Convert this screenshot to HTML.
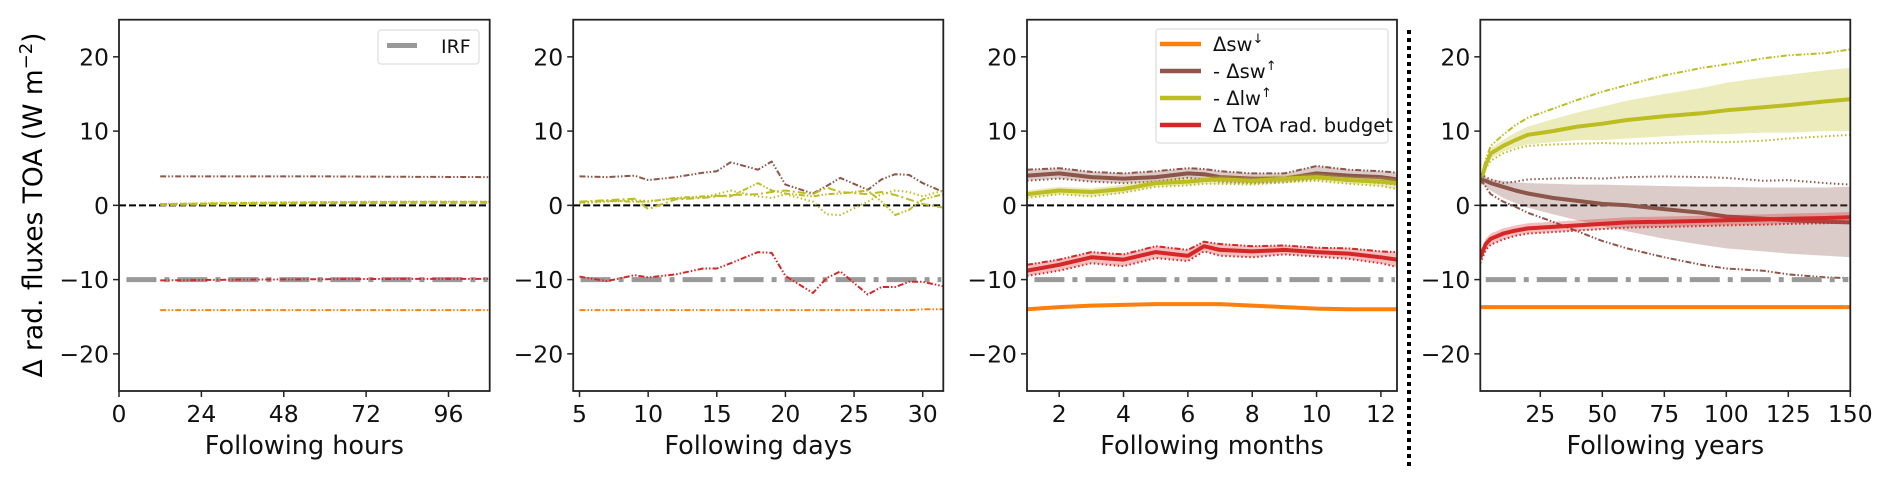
<!DOCTYPE html>
<html><head><meta charset="utf-8"><style>
body{margin:0;background:#fff;}
svg{display:block;font-family:"DejaVu Sans","Liberation Sans",sans-serif;}
</style></head><body>
<svg id="chart" width="1892" height="478" viewBox="0 0 1892 478" xmlns="http://www.w3.org/2000/svg">
<text x="0" y="0" transform="translate(42,205) rotate(-90)" text-anchor="middle" font-size="26.5" fill="#000">Δ rad. fluxes TOA (W m<tspan dy="-10" font-size="18">−2</tspan><tspan dy="10">)</tspan></text>
<line x1="1409" y1="30" x2="1409" y2="468" stroke="#000" stroke-width="4" stroke-dasharray="4,4"/>
</svg>
<script>
// ---------- data ----------
const yTicks = [-20, -10, 0, 10, 20];
const hoursTicks = [0, 24, 48, 72, 96];
const daysTicks = [5, 10, 15, 20, 25, 30];
const monthsTicks = [2, 4, 6, 8, 10, 12];
const yearsTicks = [25, 50, 75, 100, 125, 150];
const irfValue = -10;

// panel 1 (hours)
const hoursX = [12, 36, 60, 84, 108];
const hoursSwUp = [3.9, 3.9, 3.9, 3.85, 3.8];
const hoursLw = [0.1, 0.25, 0.35, 0.4, 0.4];
const hoursBudget = [-10.1, -10.0, -9.95, -9.9, -9.9];
const hoursSwDown = [-14.1, -14.1, -14.1, -14.1, -14.1];

// panel 2 (days)
const daysX = [5, 7, 9, 10, 12, 14, 15, 16, 18, 19, 20, 22, 23, 24, 26, 27, 28, 29, 30, 31.5];
const daysSwUp = [3.9, 3.8, 4.0, 3.4, 3.8, 4.4, 4.6, 5.8, 4.8, 5.9, 2.8, 1.6, 2.6, 3.7, 2.1, 3.5, 4.2, 4.1, 3.0, 1.8];
const daysBudget = [-9.6, -10.2, -9.4, -9.7, -9.3, -8.5, -8.5, -7.8, -6.3, -6.4, -9.5, -11.8, -9.8, -8.9, -12.0, -11.0, -11.0, -10.3, -10.3, -10.9];
const daysSwDown = [-14.1, -14.1, -14.1, -14.1, -14.1, -14.1, -14.1, -14.1, -14.1, -14.1, -14.1, -14.1, -14.1, -14.1, -14.1, -14.1, -14.1, -14.1, -14.0, -14.0];
const daysLwA = [0.3, 0.5, 0.7, 0.6, 0.9, 1.1, 1.5, 2.0, 1.2, 1.0, 1.5, 0.5, -1.2, -1.3, 0.5, 1.5, 2.0, 1.8, 1.2, 2.0];
const daysLwB = [0.4, 0.6, 0.5, 0.5, 1.0, 1.2, 1.3, 1.2, 3.0, 2.0, 1.6, 1.2, 1.5, 1.6, 2.0, 0.5, -1.3, -0.6, 0.8, 1.5];
const daysLwC = [0.5, 0.7, 0.9, -0.5, 0.8, 1.0, 1.2, 1.4, 1.5, 1.8, 2.0, 1.5, 2.4, 1.8, 1.5, 1.8, 1.4, 0.8, 0.2, -0.3];

// panel 3 (months)
const monthsX = [1, 2, 3, 4, 5, 6, 6.5, 7, 8, 9, 10, 11, 12, 12.5];
const monthsSwUp = [4.0, 4.3, 3.8, 3.6, 3.8, 4.3, 4.2, 3.8, 3.6, 3.6, 4.3, 4.0, 3.8, 3.5];
const monthsSwUpLo = [3.3, 3.6, 3.2, 3.0, 3.2, 3.7, 3.5, 3.2, 3.0, 3.1, 3.6, 3.3, 3.0, 2.8];
const monthsSwUpHi = [4.8, 5.0, 4.5, 4.3, 4.6, 5.0, 4.9, 4.6, 4.3, 4.3, 5.3, 4.8, 4.6, 4.4];
const monthsLw = [1.5, 2.0, 1.8, 2.2, 3.0, 3.2, 3.4, 3.5, 3.3, 3.6, 3.8, 3.4, 3.2, 3.0];
const monthsLwLo = [1.0, 1.5, 1.2, 1.7, 2.5, 2.7, 2.9, 2.9, 2.8, 3.1, 3.3, 2.9, 2.6, 2.2];
const monthsLwHi = [2.0, 2.5, 2.3, 2.8, 3.5, 3.7, 3.9, 4.0, 3.8, 4.1, 4.3, 3.9, 3.8, 3.6];
const monthsBudget = [-8.8, -8.0, -7.0, -7.3, -6.3, -6.8, -5.5, -6.0, -6.2, -6.0, -6.3, -6.5, -7.0, -7.3];
const monthsBudgetLo = [-9.5, -8.8, -7.8, -8.2, -7.1, -7.5, -6.2, -6.8, -7.0, -6.6, -6.9, -7.2, -7.8, -8.3];
const monthsBudgetHi = [-8.0, -7.3, -6.3, -6.6, -5.5, -6.0, -4.9, -5.2, -5.5, -5.4, -5.7, -5.8, -6.2, -6.3];
const monthsSwDown = [-14.0, -13.7, -13.5, -13.4, -13.3, -13.3, -13.3, -13.3, -13.5, -13.7, -13.9, -14.0, -14.0, -14.0];

// panel 4 (years)
const yearsX = [0.8, 3, 5, 10, 15, 20, 30, 40, 50, 60, 75, 90, 100, 115, 125, 140, 150];
const yearsLw = [3.0, 5.5, 7.0, 8.0, 8.8, 9.5, 10.0, 10.6, 11.0, 11.5, 12.0, 12.4, 12.8, 13.2, 13.5, 14.0, 14.3];
const yearsLwLo = [2.8, 5.0, 6.3, 7.2, 7.8, 8.2, 8.5, 8.8, 8.8, 9.0, 9.3, 9.5, 9.6, 9.8, 9.8, 10.0, 10.0];
const yearsLwHi = [3.2, 6.0, 7.7, 8.8, 9.8, 10.6, 11.6, 12.5, 13.3, 14.1, 15.0, 15.8, 16.5, 17.2, 17.6, 18.2, 18.5];
const yearsLwTop = [3.2, 6.2, 8.0, 9.5, 10.8, 11.8, 13.0, 14.2, 15.3, 16.2, 17.5, 18.5, 19.0, 19.8, 20.2, 20.5, 21.0];
const yearsLwBottom = [2.8, 5.0, 6.0, 7.0, 7.6, 8.0, 8.2, 8.3, 8.4, 8.3, 8.4, 8.6, 8.5, 8.7, 9.0, 9.3, 9.5];
const yearsSwUp = [3.5, 3.3, 3.0, 2.5, 2.0, 1.6, 1.0, 0.6, 0.2, 0.0, -0.5, -1.0, -1.5, -1.8, -2.0, -2.2, -2.3];
const yearsSwUpLo = [3.0, 2.5, 2.0, 1.0, 0.3, -0.3, -1.2, -2.0, -2.8, -3.5, -4.5, -5.3, -5.8, -6.2, -6.5, -6.8, -7.0];
const yearsSwUpHi = [4.0, 3.8, 3.5, 3.3, 3.1, 3.0, 2.9, 2.8, 2.8, 2.7, 2.6, 2.5, 2.5, 2.4, 2.4, 2.4, 2.5];
const yearsSwUpTop = [4.2, 3.8, 3.5, 3.0, 3.2, 3.5, 3.6, 3.7, 3.6, 3.8, 3.9, 3.8, 3.7, 3.3, 3.4, 3.0, 2.8];
const yearsSwUpBottom = [3.5, 2.5, 1.5, 0.5, -0.2, -1.0, -2.2, -3.5, -4.8, -5.8, -7.0, -8.0, -8.5, -8.8, -9.3, -9.7, -9.8];
const yearsBudget = [-7.0, -5.2, -4.5, -3.8, -3.4, -3.1, -2.9, -2.7, -2.5, -2.3, -2.2, -2.1, -2.0, -1.9, -1.8, -1.7, -1.6];
const yearsBudgetLo = [-7.8, -6.0, -5.3, -4.6, -4.1, -3.8, -3.6, -3.4, -3.2, -3.0, -2.9, -2.8, -2.7, -2.6, -2.5, -2.4, -2.3];
const yearsBudgetHi = [-6.2, -4.5, -3.8, -3.1, -2.7, -2.4, -2.2, -2.0, -1.8, -1.6, -1.5, -1.4, -1.3, -1.2, -1.1, -1.0, -0.9];
const yearsSwDown = [-13.7, -13.7, -13.7, -13.7, -13.7, -13.7, -13.7, -13.7, -13.7, -13.7, -13.7, -13.7, -13.7, -13.7, -13.7, -13.7, -13.7];

// ---------- drawing ----------
const C = {orange:'#ff7f0e', brown:'#8c564b', olive:'#bcbd22', red:'#d62728', gray:'#999999'};
const NS = 'http://www.w3.org/2000/svg';
const svg = document.getElementById('chart');
const TOP = 19.7, BOT = 391;
function yScale(v){ return TOP + (25 - v) / 50 * (BOT - TOP); }
function mk(tag, attrs, parent){
  const e = document.createElementNS(NS, tag);
  for (const k in attrs) e.setAttribute(k, attrs[k]);
  (parent || svg).appendChild(e);
  return e;
}
const panels = [
  {name:'hours', x0:119, x1:489.7, d0:0, d1:108, ticks:hoursTicks, label:'Following hours'},
  {name:'days', x0:573.2, x1:943.3, d0:4.54, d1:31.5, ticks:daysTicks, label:'Following days'},
  {name:'months', x0:1027, x1:1397, d0:1.0, d1:12.5, ticks:monthsTicks, label:'Following months'},
  {name:'years', x0:1480.3, x1:1850.3, d0:0.8, d1:150, ticks:yearsTicks, label:'Following years'}
];
panels.forEach(p => { p.sx = v => p.x0 + (v - p.d0) / (p.d1 - p.d0) * (p.x1 - p.x0); });

function pathD(p, xs, ys){ return xs.map((x,i)=>(i?'L':'M')+p.sx(x).toFixed(1)+','+yScale(ys[i]).toFixed(1)).join(''); }
function line(g, p, xs, ys, color, width, dash, name){
  const el = mk('path', {d:pathD(p,xs,ys), fill:'none', stroke:color, 'stroke-width':width, 'stroke-dasharray':dash||'none', 'stroke-linejoin':'round'}, g);
  
  
}
function band(g, p, xs, lo, hi, color, name){
  let d = xs.map((x,i)=>(i?'L':'M')+p.sx(x).toFixed(1)+','+yScale(hi[i]).toFixed(1)).join('');
  for (let i = xs.length-1; i >= 0; i--) d += 'L'+p.sx(xs[i]).toFixed(1)+','+yScale(lo[i]).toFixed(1);
  const el = mk('path', {d:d+'Z', fill:color, 'fill-opacity':0.3, stroke:'none'}, g);
  
  
}
const DDOT = '6,2,1.5,2,1.5,2', DOT = '1.5,2.5', DASH = '7,3';

panels.forEach((p, pi) => {
  const g = mk('g', {});
  
  
  const clipId = 'clip' + pi;
  const cp = mk('clipPath', {id:clipId}, g);
  mk('rect', {x:p.x0, y:TOP, width:p.x1-p.x0, height:BOT-TOP}, cp);
  const plot = mk('g', {'clip-path':'url(#'+clipId+')'}, g);
  
  

  const z = mk('line', {x1:p.x0, x2:p.x1, y1:yScale(0), y2:yScale(0), stroke:'#000', 'stroke-width':2, 'stroke-dasharray':DASH}, plot);
  
  

  if (p.name === 'hours') {
    line(plot, p, hoursX, hoursSwUp, C.brown, 2, DDOT, 'sw-up-line');
    line(plot, p, hoursX, hoursLw, C.olive, 3, DASH, 'lw-up-line');
    line(plot, p, hoursX, hoursLw.map(v=>v+0.1), C.olive, 2, DOT, 'lw-up-line-member');
    line(plot, p, hoursX, hoursSwDown, C.orange, 2, DDOT, 'sw-down-line');
  } else if (p.name === 'days') {
    line(plot, p, daysX, daysSwUp, C.brown, 2, DDOT, 'sw-up-line');
    line(plot, p, daysX, daysLwA, C.olive, 2, DOT, 'lw-up-member-a');
    line(plot, p, daysX, daysLwB, C.olive, 2, DDOT, 'lw-up-member-b');
    line(plot, p, daysX, daysLwC, C.olive, 2, '8,3,2,3', 'lw-up-member-c');
    line(plot, p, daysX, daysSwDown, C.orange, 2, DDOT, 'sw-down-line');
  } else if (p.name === 'months') {
    band(plot, p, monthsX, monthsSwUpLo, monthsSwUpHi, C.brown, 'sw-up-band');
    line(plot, p, monthsX, monthsSwUpHi, C.brown, 2, DDOT, 'sw-up-member-high');
    line(plot, p, monthsX, monthsSwUpLo, C.brown, 2, DOT, 'sw-up-member-low');
    line(plot, p, monthsX, monthsSwUp, C.brown, 4, null, 'sw-up-mean');
    band(plot, p, monthsX, monthsLwLo, monthsLwHi, C.olive, 'lw-up-band');
    line(plot, p, monthsX, monthsLwLo, C.olive, 2, DOT, 'lw-up-member-low');
    line(plot, p, monthsX, monthsLw, C.olive, 4, null, 'lw-up-mean');
    band(plot, p, monthsX, monthsBudgetLo, monthsBudgetHi, C.red, 'budget-band');
    line(plot, p, monthsX, monthsBudgetHi, C.red, 2, DDOT, 'budget-member-high');
    line(plot, p, monthsX, monthsBudgetLo, C.red, 2, DOT, 'budget-member-low');
    line(plot, p, monthsX, monthsBudget, C.red, 4, null, 'budget-mean');
    line(plot, p, monthsX, monthsSwDown, C.orange, 4, null, 'sw-down-line');
  } else {
    band(plot, p, yearsX, yearsLwLo, yearsLwHi, C.olive, 'lw-up-band');
    line(plot, p, yearsX, yearsLwTop, C.olive, 2, DDOT, 'lw-up-member-top');
    line(plot, p, yearsX, yearsLwBottom, C.olive, 2, DOT, 'lw-up-member-bottom');
    line(plot, p, yearsX, yearsLw, C.olive, 4, null, 'lw-up-mean');
    band(plot, p, yearsX, yearsSwUpLo, yearsSwUpHi, C.brown, 'sw-up-band');
    line(plot, p, yearsX, yearsSwUpTop, C.brown, 2, DOT, 'sw-up-member-top');
    line(plot, p, yearsX, yearsSwUpBottom, C.brown, 2, DDOT, 'sw-up-member-bottom');
    line(plot, p, yearsX, yearsSwUp, C.brown, 4, null, 'sw-up-mean');
    band(plot, p, yearsX, yearsBudgetLo, yearsBudgetHi, C.red, 'budget-band');
    line(plot, p, yearsX, yearsBudgetLo, C.red, 2, DOT, 'budget-member-low');
    line(plot, p, yearsX, yearsBudget, C.red, 4, null, 'budget-mean');
    line(plot, p, yearsX, yearsSwDown, C.orange, 4, null, 'sw-down-line');
  }
  const irfStart = p.name === 'years' ? 3 : p.d0 + (p.d1 - p.d0) * 0.02;
  const irf = mk('line', {x1:p.sx(irfStart), x2:p.x1-2, y1:yScale(irfValue), y2:yScale(irfValue), stroke:C.gray, 'stroke-width':5, 'stroke-dasharray':'30,8,5,8'}, plot);
  
  
  if (p.name === 'hours') line(plot, p, hoursX, hoursBudget, C.red, 2, DDOT, 'budget-line');
  if (p.name === 'days') line(plot, p, daysX, daysBudget, C.red, 2, DDOT, 'budget-line');

  const fr = mk('rect', {x:p.x0, y:TOP, width:p.x1-p.x0, height:BOT-TOP, fill:'none', stroke:'#222', 'stroke-width':1.8}, g);
  
  
  yTicks.forEach(t => {
    const y = yScale(t);
    mk('line', {x1:p.x0-6, x2:p.x0, y1:y, y2:y, stroke:'#222', 'stroke-width':1.5}, g);
    const tx = mk('text', {x:p.x0-10, y:y+8.5, 'text-anchor':'end', 'font-size':23.5, fill:'#111'}, g);
    tx.textContent = t < 0 ? '\u2212' + Math.abs(t) : String(t);
    
    
  });
  p.ticks.forEach(t => {
    const x = p.sx(t);
    mk('line', {x1:x, x2:x, y1:BOT, y2:BOT+6, stroke:'#222', 'stroke-width':1.5}, g);
    const tx = mk('text', {x:x, y:422, 'text-anchor':'middle', 'font-size':23.5, fill:'#111'}, g);
    tx.textContent = String(t);
    
    
  });
  const xl = mk('text', {x:(p.x0+p.x1)/2, y:454, 'text-anchor':'middle', 'font-size':25.5, fill:'#111'}, g);
  xl.textContent = p.label;
  
  
});

(function(){
  const g = mk('g', {});
  
  
  mk('rect', {x:378, y:30, width:101, height:34, rx:3, fill:'#fff', 'fill-opacity':0.85, stroke:'#ddd', 'stroke-width':1.2}, g);
  mk('line', {x1:387, x2:417, y1:45.5, y2:45.5, stroke:C.gray, 'stroke-width':5}, g);
  const t = mk('text', {x:441, y:53, 'font-size':19, fill:'#111'}, g);
  t.textContent = 'IRF';
})();
(function(){
  const g = mk('g', {});
  
  
  mk('rect', {x:1156, y:29, width:232, height:114, rx:3, fill:'#fff', 'fill-opacity':0.85, stroke:'#ddd', 'stroke-width':1.2}, g);
  const items = [
    [C.orange, 'Δsw', '↓'], [C.brown, '- Δsw', '↑'], [C.olive, '- Δlw', '↑'], [C.red, 'Δ TOA rad. budget', '']
  ];
  items.forEach((it, i) => {
    const y = 44 + i * 27;
    const e = mk('g', {}, g);
    
    
    mk('line', {x1:1160, x2:1201, y1:y, y2:y, stroke:it[0], 'stroke-width':4.5}, e);
    const t = mk('text', {x:1213, y:y+7, 'font-size':19.5, fill:'#111'}, e);
    t.textContent = it[1];
    if (it[2]) { const s = mk('tspan', {dy:-8, 'font-size':13}, t); s.textContent = it[2]; }
  });
})();
</script>
</body></html>
